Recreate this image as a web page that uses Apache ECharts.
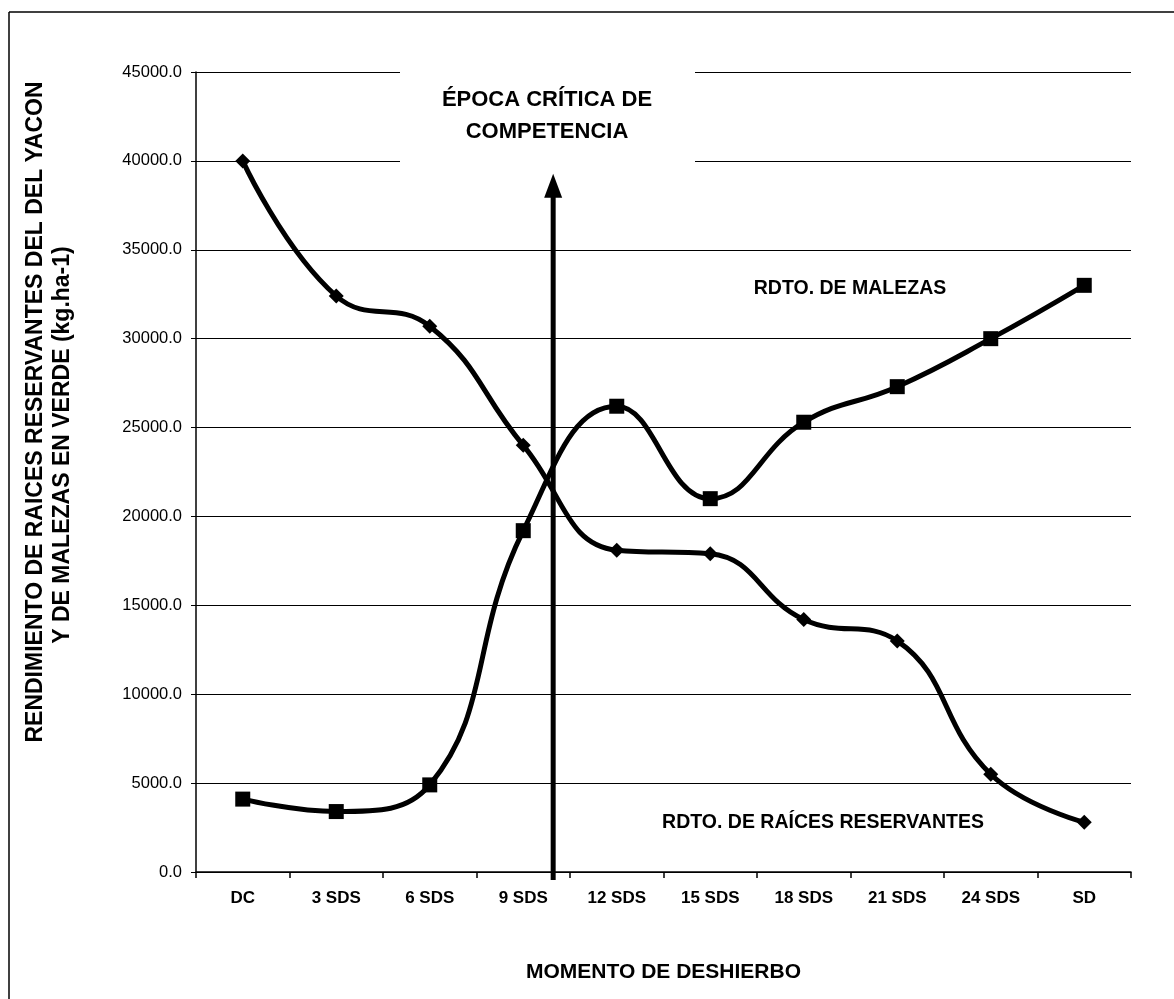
<!DOCTYPE html>
<html>
<head>
<meta charset="utf-8">
<script src="https://cdn.jsdelivr.net/npm/echarts@6/dist/echarts.min.js"></script>
<style>html,body{margin:0;padding:0;background:#fff}#c{width:1174px;height:999px}</style>
</head>
<body>
<div id="c"></div>
<script>
const categories = ['DC', '3 SDS', '6 SDS', '9 SDS', '12 SDS', '15 SDS', '18 SDS', '21 SDS', '24 SDS', 'SD'];
const malezas = [4100, 3400, 4900, 19200, 26200, 21000, 25300, 27300, 30000, 33000];
const raices = [40000, 32400, 30700, 24000, 18100, 17900, 14200, 13000, 5500, 2800];
const yMin = 0, yMax = 45000, yStep = 5000;
const arrowPos = 3.32;          // between 9 SDS and 12 SDS
const arrowFrom = -450, arrowTo = 38600;
const yTitle1 = 'RENDIMIENTO DE RAICES RESERVANTES DEL DEL YACON';
const yTitle2 = 'Y DE MALEZAS EN VERDE (kg.ha-1)';
const xTitle = 'MOMENTO DE DESHIERBO';
const noteCritica = ['ÉPOCA CRÍTICA DE', 'COMPETENCIA'];
const labelMalezas = 'RDTO. DE MALEZAS';
const labelRaices = 'RDTO. DE RAÍCES RESERVANTES';

const SANS = "'Liberation Sans', Arial, sans-serif";

const chart = echarts.init(document.getElementById('c'), null, {renderer: 'canvas'});
chart.setOption({
  backgroundColor: '#fff',
  animation: false,
  grid: {left: 196, right: 43, top: 72, bottom: 127, containLabel: false},
  xAxis: [{
    type: 'category', data: categories, boundaryGap: true,
    axisLine: {onZero: false, lineStyle: {color: '#000', width: 1.5}},
    axisTick: {show: true, length: 6, inside: false, lineStyle: {color: '#000', width: 1.5}},
    axisLabel: {color: '#000', fontFamily: SANS, fontWeight: 'bold', fontSize: 17, margin: 18},
    name: xTitle, nameLocation: 'middle', nameGap: 90,
    nameTextStyle: {color: '#000', fontFamily: SANS, fontWeight: 'bold', fontSize: 21}
  }, {
    type: 'value', min: -0.5, max: categories.length - 0.5, show: false,
    splitLine: {show: false}
  }],
  yAxis: {
    type: 'value', min: yMin, max: yMax, interval: yStep,
    axisLine: {show: true, onZero: false, lineStyle: {color: '#000', width: 1.5}},
    axisTick: {show: true, length: 5, lineStyle: {color: '#000'}},
    splitLine: {show: true, lineStyle: {color: '#000', width: 1.2}},
    axisLabel: {color: '#000', fontFamily: SANS, fontSize: 16.5, margin: 14,
      formatter: v => v.toFixed(1)}
  },
  series: [{
    name: 'Raíces', type: 'line', data: raices, smooth: 0.45,
    symbol: 'diamond', symbolSize: 15,
    lineStyle: {color: '#000', width: 5},
    itemStyle: {color: '#000'}, z: 3
  }, {
    name: 'Malezas', type: 'line', data: malezas, smooth: 0.45,
    symbol: 'rect', symbolSize: 15,
    lineStyle: {color: '#000', width: 5},
    itemStyle: {color: '#000'}, z: 3
  }, {
    name: 'arrowShaft', type: 'line', xAxisIndex: 1,
    data: [[arrowPos, arrowFrom], [arrowPos, arrowTo]],
    clip: false, silent: true, symbol: 'none',
    lineStyle: {color: '#000', width: 5}, z: 4
  }, {
    name: 'arrowHead', type: 'scatter', xAxisIndex: 1,
    data: [[arrowPos, arrowTo]],
    clip: false, silent: true, symbol: 'triangle', symbolSize: [18, 24],
    itemStyle: {color: '#000', opacity: 1}, z: 4
  }],
  graphic: [
    {type: 'line', shape: {x1: 9, y1: 12, x2: 1174, y2: 12}, style: {stroke: '#000', lineWidth: 1.5}},
    {type: 'line', shape: {x1: 9, y1: 12, x2: 9, y2: 999}, style: {stroke: '#000', lineWidth: 1.5}},
    {type: 'rect', shape: {x: 400, y: 62, width: 295, height: 105}, style: {fill: '#fff'}, z: 10},
    {type: 'text', x: 547, y: 100, z: 11, style: {text: noteCritica[0], fill: '#000', font: "bold 22px " + SANS, textAlign: 'center', textVerticalAlign: 'middle'}},
    {type: 'text', x: 547, y: 132, z: 11, style: {text: noteCritica[1], fill: '#000', font: "bold 22px " + SANS, textAlign: 'center', textVerticalAlign: 'middle'}},
    {type: 'text', x: 850, y: 289, z: 11, style: {text: labelMalezas, fill: '#000', font: "bold 19.5px " + SANS, textAlign: 'center', textVerticalAlign: 'middle'}},
    {type: 'text', x: 823, y: 823, z: 11, style: {text: labelRaices, fill: '#000', font: "bold 19.5px " + SANS, textAlign: 'center', textVerticalAlign: 'middle'}},
    {type: 'text', x: 36, y: 412, rotation: Math.PI / 2, z: 11, style: {text: yTitle1, fill: '#000', font: "bold 23px " + SANS, textAlign: 'center', textVerticalAlign: 'middle'}},
    {type: 'text', x: 63, y: 445, rotation: Math.PI / 2, z: 11, style: {text: yTitle2, fill: '#000', font: "bold 23px " + SANS, textAlign: 'center', textVerticalAlign: 'middle'}}
  ]
});
</script>
</body>
</html>
